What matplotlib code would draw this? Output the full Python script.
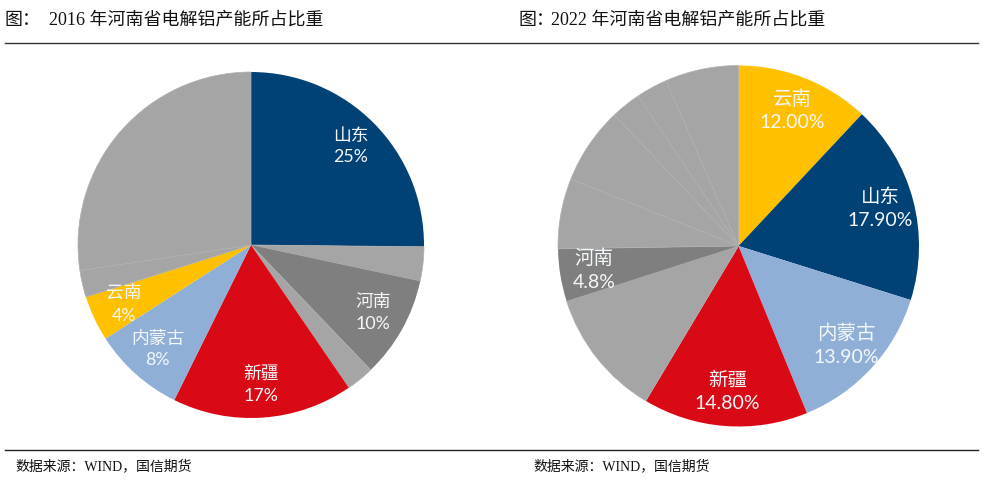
#!/usr/bin/env python3
"""Two pie charts: Henan share of electrolytic aluminium capacity, 2016 and 2022."""

import matplotlib
matplotlib.use("Agg")
import matplotlib.pyplot as plt
from matplotlib.lines import Line2D

# Fraction of total, read clockwise from 12 o'clock
values_2016 = [25.2, 3.2, 9.5, 2.6, 16.9, 8.6, 4.25, 2.5, 27.4]
labels_2016 = ["山东\n25%", "", "河南\n10%", "", "新疆\n17%", "内蒙古\n8%", "云南\n4%", "", ""]
colors_2016 = ["#004276", "#A5A5A5", "#7F7F7F", "#A5A5A5", "#D90A16",
               "#8FAFD6", "#FFC000", "#A5A5A5", "#A5A5A5"]

values_2022 = [12.0, 17.9, 14.0, 14.8, 11.5, 4.7, 6.3, 6.9, 2.7, 2.8, 6.6]
labels_2022 = ["云南\n12.00%", "山东\n17.90%", "内蒙古\n13.90%", "新疆\n14.80%", "",
               "河南\n4.8%", "", "", "", "", ""]
colors_2022 = ["#FFC000", "#004276", "#8FAFD6", "#D90A16", "#A5A5A5", "#7F7F7F",
               "#A5A5A5", "#A5A5A5", "#A5A5A5", "#A5A5A5", "#A5A5A5"]

title_prefix = "图："
title_2016 = "2016 年河南省电解铝产能所占比重"
title_2022 = "2022 年河南省电解铝产能所占比重"
source_text = "数据来源：WIND，国信期货"

W, H = 984, 492
SERIF = ["Liberation Serif", "Noto Sans CJK SC"]
LABEL_FONT = ["Lato", "Noto Sans CJK SC"]


def px_axes(fig, cx, cy, r):
    """Square axes around a pie centre given in image pixels."""
    return fig.add_axes([(cx - r) / W, 1 - (cy + r) / H, 2 * r / W, 2 * r / H])


def draw_pie(ax, values, labels, colors, fontsize):
    wedges, texts = ax.pie(values, labels=labels, colors=colors, startangle=90,
                           counterclock=False, radius=1.0, labeldistance=0.81,
                           wedgeprops={"linewidth": 0})
    for w, c in zip(wedges, colors):
        if c == "#A5A5A5":
            w.set_edgecolor("#B0B0B0")
            w.set_linewidth(0.5)
    for t in texts:
        t.set_ha("center")
        t.set_va("center")
        t.set_color("#F4F7FA")
        t.set_fontsize(fontsize)
        t.set_family(LABEL_FONT)
        t.set_linespacing(1.45)
    ax.set_xlim(-1, 1)
    ax.set_ylim(-1, 1)


fig = plt.figure(figsize=(W / 100, H / 100), dpi=100, facecolor="white")

ax_left = px_axes(fig, 251, 245, 173)
draw_pie(ax_left, values_2016, labels_2016, colors_2016, 12.8)

ax_right = px_axes(fig, 738.5, 246, 180.5)
draw_pie(ax_right, values_2022, labels_2022, colors_2022, 14)

# Header, footer and rules sit in figure pixels
for y, color in [(42.5, "#333333"), (449.5, "#222222")]:
    fig.add_artist(Line2D([5 / W, 978 / W], [1 - y / H, 1 - y / H], color=color, linewidth=1.0))

title_kw = {"fontsize": 12.95, "family": SERIF, "va": "center", "color": "#111111"}
fig.text(5 / W, 1 - 20 / H, title_prefix, **title_kw)
fig.text(49 / W, 1 - 20 / H, title_2016, **title_kw)
fig.text(518 / W, 1 - 20 / H, title_prefix, **title_kw)
fig.text(551 / W, 1 - 20 / H, title_2022, **title_kw)

source_kw = {"fontsize": 10, "family": SERIF, "va": "center", "color": "#111111"}
fig.text(15 / W, 1 - 466 / H, source_text, **source_kw)
fig.text(533 / W, 1 - 466 / H, source_text, **source_kw)

fig.savefig("out.png", dpi=100)
